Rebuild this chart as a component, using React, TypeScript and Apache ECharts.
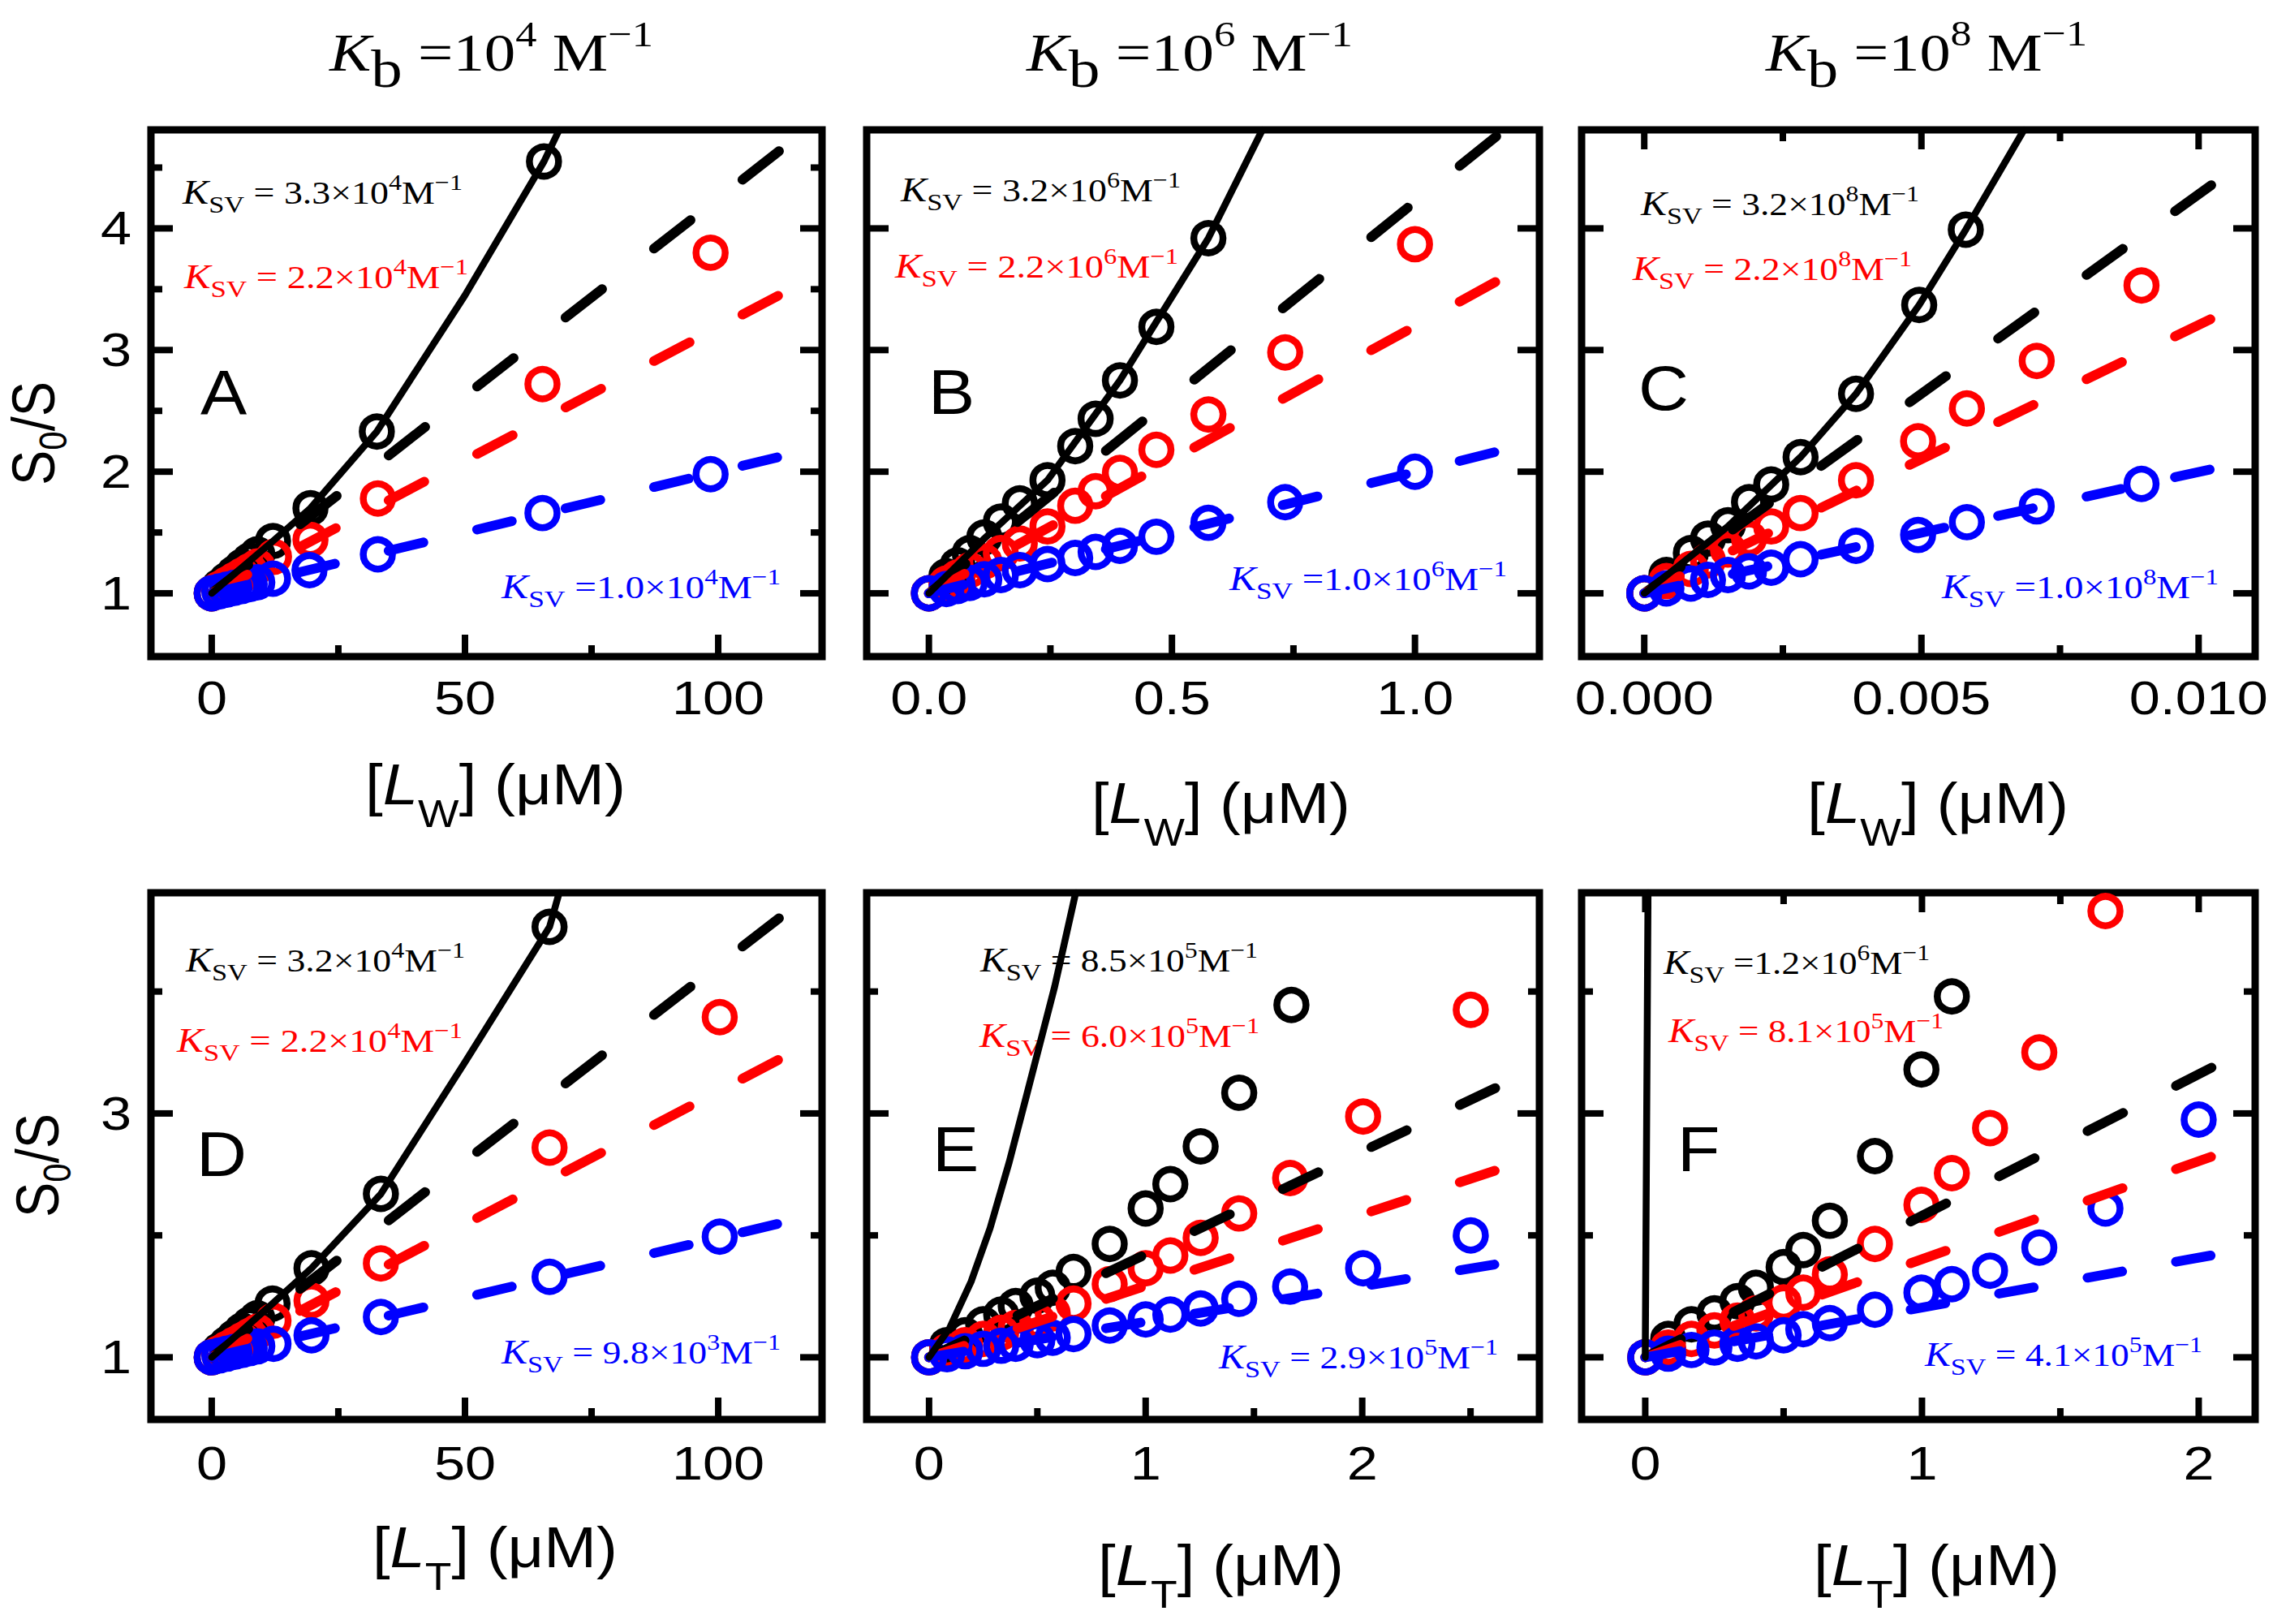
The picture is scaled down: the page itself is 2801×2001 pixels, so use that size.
import React, { useEffect, useRef } from "react";
import * as echarts from "echarts";

// ================= DATA =================
// Panel A : Kb = 1e4 M^-1, x = [L_W] (uM)
const A_black = [[0, 1], [1.5, 1.055], [3, 1.11], [4.5, 1.165], [6, 1.22], [7.5, 1.27], [9, 1.32], [12.1, 1.43], [19.5, 1.7], [32.6, 2.33], [65.6, 4.55]];
const A_red = [[0, 1], [1.5, 1.037], [3, 1.074], [4.5, 1.11], [6, 1.147], [7.5, 1.184], [9, 1.22], [12.3, 1.3], [19.5, 1.44], [32.8, 1.78], [65.3, 2.72], [98.5, 3.8]];
const A_blue = [[0, 1], [1.5, 1.015], [3, 1.03], [4.5, 1.045], [6, 1.06], [7.5, 1.075], [9, 1.09], [12.1, 1.12], [19.3, 1.19], [32.8, 1.32], [65.3, 1.66], [98.5, 1.98]];
const A_curve = [[0, 1], [12.1, 1.43], [19.5, 1.7], [32.6, 2.33], [50, 3.45], [65.6, 4.55], [68.6, 4.81]];
const A_fitBlack = [[0, 1], [113.4, 4.68]];
const A_fitRed = [[0, 1], [113.4, 3.48]];
const A_fitBlue = [[0, 1], [113.4, 2.135]];

// Panel B : Kb = 1e6 M^-1
const B_black = [[0, 1], [0.036, 1.14], [0.059, 1.23], [0.084, 1.33], [0.114, 1.46], [0.148, 1.59], [0.187, 1.74], [0.244, 1.93], [0.301, 2.21], [0.343, 2.435], [0.393, 2.75], [0.468, 3.19], [0.575, 3.92]];
const B_red = [[0, 1], [0.036, 1.08], [0.059, 1.13], [0.084, 1.19], [0.114, 1.26], [0.148, 1.33], [0.187, 1.41], [0.244, 1.55], [0.301, 1.72], [0.343, 1.84], [0.393, 1.99], [0.468, 2.18], [0.575, 2.47], [0.733, 2.98], [1.0, 3.87]];
const B_blue = [[0, 1], [0.036, 1.035], [0.059, 1.06], [0.084, 1.085], [0.114, 1.115], [0.148, 1.15], [0.187, 1.19], [0.244, 1.24], [0.301, 1.29], [0.343, 1.34], [0.393, 1.39], [0.468, 1.465], [0.575, 1.58], [0.733, 1.75], [1.0, 2.0]];
const B_curve = [[0, 1], [0.114, 1.45], [0.244, 1.93], [0.393, 2.75], [0.575, 3.92], [0.686, 4.81]];
const B_fitBlack = [[0, 1], [1.184, 4.81]];
const B_fitRed = [[0, 1], [1.184, 3.6]];
const B_fitBlue = [[0, 1], [1.184, 2.18]];

// Panel C : Kb = 1e8 M^-1
const C_black = [[0, 1], [0.0004, 1.15], [0.00084, 1.33], [0.00115, 1.45], [0.00151, 1.56], [0.00189, 1.75], [0.00229, 1.895], [0.00282, 2.12], [0.00382, 2.64], [0.00496, 3.37], [0.0058, 3.99]];
const C_red = [[0, 1], [0.0004, 1.1], [0.00084, 1.2], [0.00115, 1.27], [0.00151, 1.36], [0.00189, 1.45], [0.00229, 1.55], [0.00282, 1.66], [0.00382, 1.93], [0.00494, 2.25], [0.00582, 2.52], [0.00708, 2.91], [0.00897, 3.53]];
const C_blue = [[0, 1], [0.0004, 1.04], [0.00084, 1.08], [0.00115, 1.11], [0.00151, 1.15], [0.00189, 1.18], [0.00229, 1.21], [0.00282, 1.28], [0.00382, 1.39], [0.00494, 1.48], [0.00582, 1.585], [0.00708, 1.715], [0.00897, 1.9]];
const C_curve = [[0, 1], [0.00151, 1.55], [0.00282, 2.12], [0.00382, 2.64], [0.00496, 3.37], [0.0058, 3.99], [0.00685, 4.81]];
const C_fitBlack = [[0, 1], [0.01038, 4.405]];
const C_fitRed = [[0, 1], [0.01038, 3.29]];
const C_fitBlue = [[0, 1], [0.01038, 2.035]];

// Panel D : Kb = 1e4 M^-1, x = [L_T] (uM)
const D_black = [[0, 1], [1.5, 1.055], [3, 1.11], [4.5, 1.165], [6, 1.22], [7.5, 1.27], [9, 1.32], [12, 1.44], [19.7, 1.73], [33.4, 2.34], [66.7, 4.53]];
const D_red = [[0, 1], [1.5, 1.035], [3, 1.07], [4.5, 1.105], [6, 1.14], [7.5, 1.175], [9, 1.21], [12.2, 1.3], [19.7, 1.465], [33.4, 1.77], [66.7, 2.72], [100.3, 3.79]];
const D_blue = [[0, 1], [1.5, 1.015], [3, 1.03], [4.5, 1.045], [6, 1.06], [7.5, 1.075], [9, 1.09], [12.2, 1.11], [19.7, 1.18], [33.4, 1.33], [66.7, 1.66], [100.3, 1.99]];
const D_curve = [[0, 1], [12, 1.44], [19.7, 1.73], [33.4, 2.34], [50, 3.42], [66.7, 4.53], [68.6, 4.81]];
const D_fitBlack = [[0, 1], [113.4, 4.646]];
const D_fitRed = [[0, 1], [113.4, 3.473]];
const D_fitBlue = [[0, 1], [113.4, 2.11]];

// Panel E : Kb = 1e6 M^-1
const E_black = [[0, 1], [0.083, 1.1], [0.167, 1.18], [0.25, 1.27], [0.333, 1.35], [0.4, 1.42], [0.5, 1.505], [0.571, 1.57], [0.667, 1.7], [0.834, 1.93], [1.0, 2.22], [1.114, 2.42], [1.254, 2.73], [1.432, 3.17], [1.673, 3.89]];
const E_red = [[0, 1], [0.083, 1.05], [0.167, 1.1], [0.25, 1.15], [0.333, 1.2], [0.4, 1.24], [0.5, 1.3], [0.571, 1.36], [0.667, 1.44], [0.834, 1.6], [1.0, 1.73], [1.114, 1.835], [1.254, 1.98], [1.432, 2.18], [1.667, 2.47], [2.004, 2.975], [2.501, 3.85]];
const E_blue = [[0, 1], [0.083, 1.025], [0.167, 1.05], [0.25, 1.07], [0.333, 1.095], [0.4, 1.11], [0.5, 1.14], [0.571, 1.16], [0.667, 1.19], [0.834, 1.26], [1.0, 1.31], [1.114, 1.35], [1.254, 1.4], [1.432, 1.48], [1.667, 1.58], [2.004, 1.73], [2.501, 2.0]];
const E_curve = [[0, 1], [0.095, 1.24], [0.194, 1.62], [0.282, 2.06], [0.37, 2.6], [0.452, 3.16], [0.58, 4.04], [0.677, 4.81]];
const E_fitBlack = [[0, 1], [2.656, 3.243]];
const E_fitRed = [[0, 1], [2.656, 2.556]];
const E_fitBlue = [[0, 1], [2.656, 1.774]];

// Panel F : Kb = 1e8 M^-1
const F_black = [[0, 1], [0.083, 1.15], [0.167, 1.27], [0.25, 1.36], [0.333, 1.46], [0.4, 1.57], [0.5, 1.74], [0.571, 1.88], [0.667, 2.12], [0.83, 2.65], [0.998, 3.36], [1.108, 3.96]];
const F_red = [[0, 1], [0.083, 1.08], [0.167, 1.15], [0.25, 1.22], [0.333, 1.3], [0.4, 1.36], [0.5, 1.45], [0.571, 1.53], [0.667, 1.68], [0.83, 1.93], [0.998, 2.25], [1.108, 2.51], [1.246, 2.88], [1.424, 3.5], [1.663, 4.66]];
const F_blue = [[0, 1], [0.083, 1.03], [0.167, 1.06], [0.25, 1.08], [0.333, 1.11], [0.4, 1.13], [0.5, 1.18], [0.571, 1.23], [0.667, 1.28], [0.83, 1.39], [0.998, 1.53], [1.108, 1.6], [1.246, 1.71], [1.424, 1.9], [1.663, 2.22], [2.0, 2.95]];
const F_curve = [[0, 1], [0.01, 4.81]];
const F_fitBlack = [[0, 1], [2.076, 3.41]];
const F_fitRed = [[0, 1], [2.076, 2.67]];
const F_fitBlue = [[0, 1], [2.076, 1.848]];

// Axis ranges
const X_RANGES = [[-12, 120.5], [-0.128, 1.256], [-0.00113, 0.01102], [-12, 120.5], [-0.288, 2.818], [-0.23, 2.204]];
const Y_RANGES = [[0.48, 4.81], [0.48, 4.81], [0.48, 4.81], [0.49, 4.81], [0.49, 4.81], [0.49, 4.81]];

// Ticks and tick labels
const X_MAJOR = [[0, 50, 100], [0, 0.5, 1.0], [0, 0.005, 0.01], [0, 50, 100], [0, 1, 2], [0, 1, 2]];
const X_MINOR = [[25, 75], [0.25, 0.75], [0.0025, 0.0075], [25, 75], [0.5, 1.5, 2.5], [0.5, 1.5]];
const X_LABELS = [["0", "50", "100"], ["0.0", "0.5", "1.0"], ["0.000", "0.005", "0.010"], ["0", "50", "100"], ["0", "1", "2"], ["0", "1", "2"]];
const Y_MAJOR = [[1, 2, 3, 4], [1, 2, 3, 4], [1, 2, 3, 4], [1, 3], [1, 3], [1, 3]];
const Y_MINOR = [[1.5, 2.5, 3.5, 4.5], [], [], [2, 4], [2, 4], [2, 4]];
const Y_LABELS = [["1", "2", "3", "4"], [], [], ["1", "3"], [], []];
const TOP_TICKS = [false, false, true, false, false, true];

// Texts
const PANEL_LETTERS = ["A", "B", "C", "D", "E", "F"];
const KB_EXP = ["4", "6", "8"];
const X_SUB = ["W", "W", "W", "T", "T", "T"];
// [main text, exponent] for black, red, blue
const KSV_TEXT = [
  [[" = 3.3\u00d710", "4"], [" = 2.2\u00d710", "4"], [" =1.0\u00d710", "4"]],
  [[" = 3.2\u00d710", "6"], [" = 2.2\u00d710", "6"], [" =1.0\u00d710", "6"]],
  [[" = 3.2\u00d710", "8"], [" = 2.2\u00d710", "8"], [" =1.0\u00d710", "8"]],
  [[" = 3.2\u00d710", "4"], [" = 2.2\u00d710", "4"], [" = 9.8\u00d710", "3"]],
  [[" = 8.5\u00d710", "5"], [" = 6.0\u00d710", "5"], [" = 2.9\u00d710", "5"]],
  [[" =1.2\u00d710", "6"], [" = 8.1\u00d710", "5"], [" = 4.1\u00d710", "5"]],
];

const PANEL_DATA = [
  { black: A_black, red: A_red, blue: A_blue, curve: A_curve, fits: [A_fitBlack, A_fitRed, A_fitBlue] },
  { black: B_black, red: B_red, blue: B_blue, curve: B_curve, fits: [B_fitBlack, B_fitRed, B_fitBlue] },
  { black: C_black, red: C_red, blue: C_blue, curve: C_curve, fits: [C_fitBlack, C_fitRed, C_fitBlue] },
  { black: D_black, red: D_red, blue: D_blue, curve: D_curve, fits: [D_fitBlack, D_fitRed, D_fitBlue] },
  { black: E_black, red: E_red, blue: E_blue, curve: E_curve, fits: [E_fitBlack, E_fitRed, E_fitBlue] },
  { black: F_black, red: F_red, blue: F_blue, curve: F_curve, fits: [F_fitBlack, F_fitRed, F_fitBlue] },
];

// ================= LAYOUT / STYLE =================
const W = 2801;
const H = 2001;
const SERIF = "'Liberation Serif', 'Times New Roman', serif";
const SANS = "'Liberation Sans', Arial, sans-serif";
const COLORS = ["#000000", "#ff0000", "#0000ff"];

const COL_LEFT = [186, 1068, 1949];
const COL_WIDTH = [827, 829, 830];
const ROW_TOP = [160, 1100];
const ROW_HEIGHT = 649;
const GRIDS = [0, 1, 2, 3, 4, 5].map((i) => ({
  left: COL_LEFT[i % 3],
  top: ROW_TOP[Math.floor(i / 3)],
  width: COL_WIDTH[i % 3],
  height: ROW_HEIGHT,
}));

const FRAME_W = 9;
const TICK_W = 8;
const MAJOR_LEN = 27;
const MINOR_LEN = 14;
const SYMBOL_SIZE = 36;
const SYMBOL_BORDER = 8.5;
const CURVE_W = 8.5;
const DASH_W = 12;
const DASH_SPAN = 54.5; // horizontal extent of one dash / gap in px

const TITLE_POS = [
  { x: 406, y: 87, w: 399 },
  { x: 1265, y: 87, w: 402 },
  { x: 2176, y: 87, w: 396 },
];
const KSV_POS = [
  [{ x: 225, y: 251, w: 345 }, { x: 227, y: 355, w: 350 }, { x: 618, y: 737, w: 344 }],
  [{ x: 1110, y: 248, w: 345 }, { x: 1103, y: 342, w: 349 }, { x: 1515, y: 727, w: 342 }],
  [{ x: 2022, y: 265, w: 343 }, { x: 2012, y: 345, w: 344 }, { x: 2393, y: 737, w: 341 }],
  [{ x: 229, y: 1197, w: 344 }, { x: 218, y: 1296, w: 352 }, { x: 618, y: 1680, w: 344 }],
  [{ x: 1208, y: 1197, w: 342 }, { x: 1207, y: 1290, w: 345 }, { x: 1502, y: 1686, w: 344 }],
  [{ x: 2050, y: 1200, w: 328 }, { x: 2056, y: 1284, w: 339 }, { x: 2372, y: 1683, w: 342 }],
];
const LETTER_POS = [
  { x: 247, y: 510 }, { x: 1144, y: 509 }, { x: 2019, y: 504 },
  { x: 242, y: 1448 }, { x: 1149, y: 1442 }, { x: 2067, y: 1442 },
];
const XTITLE_POS = [
  { x: 450, y: 991, w: 321 }, { x: 1345, y: 1014, w: 319 }, { x: 2227, y: 1014, w: 322 },
  { x: 459, y: 1931, w: 302 }, { x: 1353, y: 1953, w: 303 }, { x: 2235, y: 1953, w: 303 },
];
const YTITLE_POS = [{ x: 67, y: 598 }, { x: 72, y: 1500 }];
const XLABEL_Y = [860, 1803];
const YLABEL_RIGHT = 162;
const TICK_FONT = 57;
const TICK_SX = 1.2;

// ================= TEXT HELPERS =================
let measureCtx: CanvasRenderingContext2D | null = null;
function textWidth(font: string, text: string): number {
  if (!measureCtx) measureCtx = document.createElement("canvas").getContext("2d");
  measureCtx!.font = font;
  return measureCtx!.measureText(text).width;
}

type Seg = { t: string; s: number; dy?: number; it?: boolean };
function composite(segs: Seg[], family: string, color: string, o: any) {
  let cx = 0;
  const children: any[] = [];
  for (const g of segs) {
    const font = `${g.it ? "italic " : ""}${g.s}px ${family}`;
    children.push({
      type: "text",
      x: cx,
      y: (g.dy || 0) - 0.34 * g.s,
      silent: true,
      style: { text: g.t, font, fill: color, textAlign: "left", textVerticalAlign: "middle" },
    });
    cx += textWidth(font, g.t);
  }
  const sx = o.w ? o.w / cx : o.sx ?? 1;
  return {
    type: "group",
    x: o.x,
    y: o.y,
    scaleX: sx,
    scaleY: o.sy ?? 1,
    rotation: o.rot ?? 0,
    z: 100,
    children,
  };
}

// ================= OPTION =================
function buildOption() {
  const series: any[] = [];
  PANEL_DATA.forEach((p, i) => {
    const g = GRIDS[i];
    const pxX = g.width / (X_RANGES[i][1] - X_RANGES[i][0]);
    const pxY = g.height / (Y_RANGES[i][1] - Y_RANGES[i][0]);
    [p.black, p.red, p.blue].forEach((d, k) => {
      series.push({
        type: "scatter",
        xAxisIndex: i,
        yAxisIndex: i,
        data: d,
        symbol: "circle",
        symbolSize: SYMBOL_SIZE,
        itemStyle: { color: "rgba(0,0,0,0)", borderColor: COLORS[k], borderWidth: SYMBOL_BORDER, opacity: 1 },
        silent: true,
        z: 2,
      });
    });
    p.fits.forEach((f, k) => {
      const m = ((f[1][1] - f[0][1]) * pxY) / ((f[1][0] - f[0][0]) * pxX);
      const fac = Math.sqrt(1 + m * m);
      series.push({
        type: "line",
        xAxisIndex: i,
        yAxisIndex: i,
        data: f,
        symbol: "none",
        silent: true,
        lineStyle: {
          color: COLORS[k],
          width: DASH_W,
          type: [Math.max(1, DASH_SPAN * fac - DASH_W), DASH_SPAN * fac + DASH_W],
          cap: "round",
        },
        z: 3,
      });
    });
    series.push({
      type: "line",
      xAxisIndex: i,
      yAxisIndex: i,
      data: p.curve,
      symbol: "none",
      smooth: false,
      silent: true,
      lineStyle: { color: "#000", width: CURVE_W, cap: "round", join: "round" },
      z: 4,
    });
  });

  return {
    animation: false,
    backgroundColor: "#ffffff",
    grid: GRIDS.map((g) => ({
      left: g.left,
      top: g.top,
      width: g.width,
      height: g.height,
      show: true,
      borderColor: "#000",
      borderWidth: FRAME_W,
      backgroundColor: "rgba(0,0,0,0)",
    })),
    xAxis: X_RANGES.map((r, i) => ({
      type: "value",
      gridIndex: i,
      min: r[0],
      max: r[1],
      show: false,
      splitLine: { show: false },
    })),
    yAxis: Y_RANGES.map((r, i) => ({
      type: "value",
      gridIndex: i,
      min: r[0],
      max: r[1],
      show: false,
      splitLine: { show: false },
    })),
    series,
  };
}

function buildGraphic(chart: any) {
  const els: any[] = [];
  const tick = (x1: number, y1: number, x2: number, y2: number) =>
    els.push({ type: "line", z: 90, silent: true, shape: { x1, y1, x2, y2 }, style: { stroke: "#000", lineWidth: TICK_W } });

  GRIDS.forEach((g, i) => {
    const top = g.top;
    const bottom = g.top + g.height;
    const left = g.left;
    const right = g.left + g.width;
    const xp = (v: number) => chart.convertToPixel({ xAxisIndex: i }, v);
    const yp = (v: number) => chart.convertToPixel({ yAxisIndex: i }, v);

    X_MAJOR[i].forEach((v, k) => {
      const x = xp(v);
      tick(x, bottom, x, bottom - MAJOR_LEN);
      if (TOP_TICKS[i]) tick(x, top, x, top + MAJOR_LEN - 3);
      els.push({
        type: "text",
        x,
        y: XLABEL_Y[Math.floor(i / 3)],
        scaleX: TICK_SX,
        z: 100,
        silent: true,
        style: { text: X_LABELS[i][k], font: `${TICK_FONT}px ${SANS}`, fill: "#000", textAlign: "center", textVerticalAlign: "middle" },
      });
    });
    X_MINOR[i].forEach((v) => {
      const x = xp(v);
      tick(x, bottom, x, bottom - MINOR_LEN);
      if (TOP_TICKS[i]) tick(x, top, x, top + MINOR_LEN);
    });
    Y_MAJOR[i].forEach((v) => {
      const y = yp(v);
      tick(left, y, left + MAJOR_LEN, y);
      tick(right, y, right - MAJOR_LEN, y);
    });
    Y_MINOR[i].forEach((v) => {
      const y = yp(v);
      tick(left, y, left + MINOR_LEN, y);
      tick(right, y, right - MINOR_LEN, y);
    });
    Y_LABELS[i].forEach((t, k) => {
      els.push({
        type: "text",
        x: YLABEL_RIGHT,
        y: yp(Y_MAJOR[i][k]),
        scaleX: TICK_SX,
        z: 100,
        silent: true,
        style: { text: t, font: `${TICK_FONT}px ${SANS}`, fill: "#000", textAlign: "right", textVerticalAlign: "middle" },
      });
    });

    // panel letter
    els.push(composite([{ t: PANEL_LETTERS[i], s: 78 }], SANS, "#000", { x: LETTER_POS[i].x, y: LETTER_POS[i].y, sx: 1.1 }));

    // K_SV annotations
    KSV_TEXT[i].forEach((kt, k) => {
      const pos = KSV_POS[i][k];
      els.push(
        composite(
          [
            { t: "K", s: 42, it: true },
            { t: "SV", s: 30, dy: 11 },
            { t: kt[0], s: 40 },
            { t: kt[1], s: 28, dy: -17 },
            { t: "M", s: 40 },
            { t: "\u22121", s: 28, dy: -17 },
          ],
          SERIF,
          COLORS[k],
          pos
        )
      );
    });

    // x-axis title
    els.push(
      composite(
        [
          { t: "[", s: 70 },
          { t: "L", s: 70, it: true },
          { t: X_SUB[i], s: 48, dy: 28 },
          { t: "] (\u03bcM)", s: 70 },
        ],
        SANS,
        "#000",
        XTITLE_POS[i]
      )
    );
  });

  // column titles
  TITLE_POS.forEach((p, c) => {
    els.push(
      composite(
        [
          { t: "K", s: 66, it: true },
          { t: "b", s: 66, dy: 20 },
          { t: " =10", s: 66 },
          { t: KB_EXP[c], s: 45, dy: -30 },
          { t: " M", s: 66 },
          { t: "\u22121", s: 45, dy: -30 },
        ],
        SERIF,
        "#000",
        p
      )
    );
  });

  // y-axis titles
  YTITLE_POS.forEach((p) => {
    els.push(
      composite(
        [
          { t: "S", s: 62 },
          { t: "0", s: 40, dy: 12 },
          { t: "/S", s: 62 },
        ],
        SANS,
        "#000",
        { x: p.x, y: p.y, w: 128, sy: 1.19, rot: Math.PI / 2 }
      )
    );
  });

  return els;
}

export default function App() {
  const ref = useRef<HTMLDivElement>(null);
  useEffect(() => {
    if (!ref.current) return;
    const chart = echarts.init(ref.current, null, { renderer: "svg" });
    chart.setOption(buildOption());
    chart.setOption({ graphic: { elements: buildGraphic(chart) } });
    return () => chart.dispose();
  }, []);
  return (
    <div
      ref={ref}
      style={{ position: "absolute", left: 0, top: 0, width: W, height: H, background: "#fff" }}
    />
  );
}
